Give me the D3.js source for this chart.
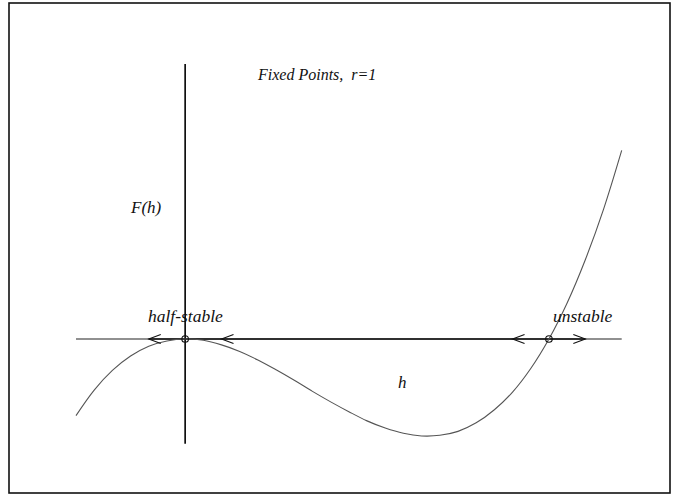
<!DOCTYPE html>
<html>
<head>
<meta charset="utf-8">
<script src="https://cdn.jsdelivr.net/npm/d3@7"></script>
<style>
    body { margin: 0; padding: 0; background: #fff; }
    text { font-family: "Liberation Serif", "Times New Roman", serif; font-style: italic; fill: #111; }
</style>
</head>
<body>
<svg id="chart" width="679" height="496"></svg>
<script>
// curve F(h)
const hVals = [-0.30, -0.25, -0.20, -0.15, -0.10, -0.05, 0.00, 0.05, 0.10, 0.15,
               0.20, 0.25, 0.30, 0.35, 0.40, 0.45, 0.50, 0.55, 0.60, 0.65,
               0.70, 0.75, 0.80, 0.85, 0.90, 0.95, 1.00, 1.05, 1.10, 1.15, 1.20];
const fVals = [-0.117, -0.078, -0.048, -0.026, -0.011, -0.003, 0.000, -0.002, -0.009, -0.019,
               -0.032, -0.047, -0.063, -0.080, -0.096, -0.111, -0.125, -0.136, -0.144, -0.148,
               -0.147, -0.141, -0.128, -0.108, -0.081, -0.045, 0.000, 0.055, 0.121, 0.198, 0.288];

// fixed points and flow arrows (tip position, direction)
const fixedPts = [0, 1];
const fixedLabels = ["half-stable", "unstable"];
const arrowTips = [-0.10, 0.10, 0.90, 1.10];
const arrowDirs = [-1, -1, -1, 1];

const svg = d3.select("#chart");

const x = d3.scaleLinear().domain([-0.3, 1.2]).range([76, 621.7]);
const y = d3.scaleLinear().domain([-0.16, 0.3]).range([443.8, 142.5]);

// frame
svg.append("rect")
    .attr("x", 9).attr("y", 3).attr("width", 661).attr("height", 490)
    .attr("fill", "none").attr("stroke", "#111").attr("stroke-width", 1.6);

// axes
svg.append("line")
    .attr("x1", x(-0.3)).attr("x2", x(1.2))
    .attr("y1", y(0)).attr("y2", y(0))
    .attr("stroke", "#222").attr("stroke-width", 1.2);
svg.append("line")
    .attr("x1", x(-0.1)).attr("x2", x(1.1))
    .attr("y1", y(0)).attr("y2", y(0))
    .attr("stroke", "#111").attr("stroke-width", 1.6);
svg.append("line")
    .attr("x1", x(0)).attr("x2", x(0))
    .attr("y1", y(0.42)).attr("y2", y(-0.16))
    .attr("stroke", "#000").attr("stroke-width", 1.6);

// curve
const pts = hVals.map((h, i) => [h, fVals[i]]);
svg.append("path")
    .datum(pts)
    .attr("d", d3.line().x(d => x(d[0])).y(d => y(d[1])).curve(d3.curveCatmullRom))
    .attr("fill", "none").attr("stroke", "#555").attr("stroke-width", 1.1);

// arrowheads
svg.selectAll("path.arrow").data(arrowTips)
    .join("path")
    .attr("class", "arrow")
    .attr("d", (t, i) => {
        const tx = x(t), ty = y(0), s = -arrowDirs[i];
        return `M${tx + s * 12},${ty - 4.5}L${tx},${ty}L${tx + s * 12},${ty + 4.5}`;
    })
    .attr("fill", "none").attr("stroke", "#111").attr("stroke-width", 1.1);

// fixed point circles
svg.selectAll("circle.fp").data(fixedPts)
    .join("circle")
    .attr("class", "fp")
    .attr("cx", d => x(d)).attr("cy", y(0)).attr("r", 3.3)
    .attr("fill", "none").attr("stroke", "#111").attr("stroke-width", 1.1);

// labels
svg.append("text").attr("x", 258).attr("y", 80).attr("font-size", 16).text("Fixed Points,  r=1")
    .style("white-space", "pre");
svg.append("text").attr("x", 131).attr("y", 213).attr("font-size", 17).text("F(h)");
svg.append("text").attr("x", 398).attr("y", 388).attr("font-size", 17).text("h");
svg.selectAll("text.fpl").data(fixedLabels)
    .join("text")
    .attr("class", "fpl")
    .attr("x", (d, i) => i === 0 ? 148 : 553)
    .attr("y", 322)
    .attr("font-size", 17.5)
    .text(d => d);
</script>
</body>
</html>
